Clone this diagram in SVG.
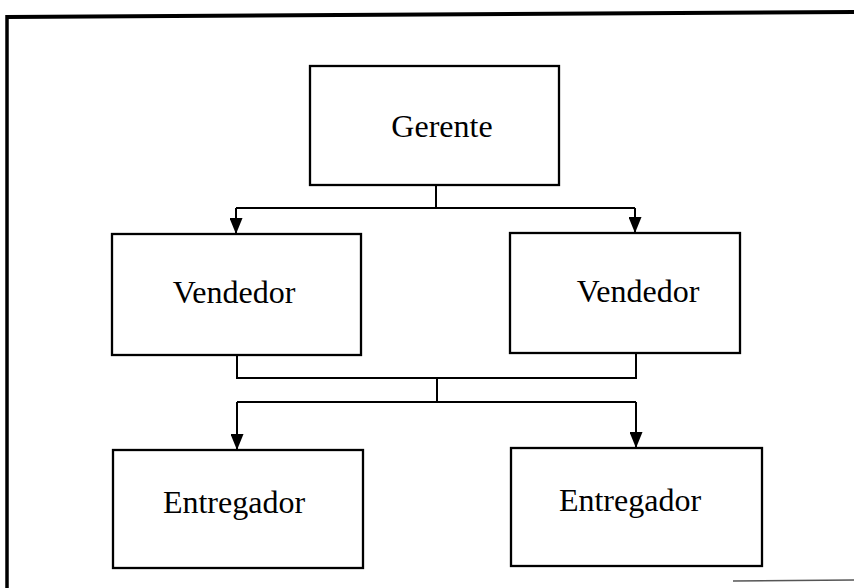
<svg xmlns="http://www.w3.org/2000/svg" width="854" height="588" viewBox="0 0 854 588">
<style>
.box{fill:#fff;stroke:#000;stroke-width:2.3}
.lbl{font-family:"Liberation Serif","Times New Roman",serif;font-size:32px;fill:#000;text-anchor:middle}
.ln{fill:none;stroke:#000;stroke-width:2}
</style>
<defs>
<marker id="ah" markerWidth="16" markerHeight="13" refX="16" refY="6.5" orient="auto" markerUnits="userSpaceOnUse" viewBox="0 0 16 13">
<path d="M0,0 L16,6.5 L0,13 Z" fill="#000"/>
</marker>
</defs>
<rect width="854" height="588" fill="#fff"/>
<g id="frame">
<path d="M7,17 L854,12" stroke="#000" stroke-width="4" fill="none"/>
<path d="M7,15 L7,588" stroke="#000" stroke-width="3.5" fill="none"/>
<path d="M733,581 L854,580" stroke="#555" stroke-width="1.5" fill="none"/>
</g>
<g id="connectors">
<path class="ln" d="M436,185 L436,208"/>
<path class="ln" d="M236,208 L635,208"/>
<path class="ln" d="M236,208 L236,234" marker-end="url(#ah)"/>
<path class="ln" d="M635,208 L635,233" marker-end="url(#ah)"/>
<path class="ln" d="M237,355 L237,378 L636,378 L636,353"/>
<path class="ln" d="M437,378 L437,402"/>
<path class="ln" d="M237,402 L636,402"/>
<path class="ln" d="M237,402 L237,450" marker-end="url(#ah)"/>
<path class="ln" d="M636,402 L636,448" marker-end="url(#ah)"/>
</g>
<g id="gerente">
<rect class="box" x="310" y="66" width="249" height="119"/>
<text class="lbl" x="442" y="137">Gerente</text>
</g>
<g id="vendedor1">
<rect class="box" x="112" y="234" width="249" height="121"/>
<text class="lbl" x="234" y="303">Vendedor</text>
</g>
<g id="vendedor2">
<rect class="box" x="510" y="233" width="230" height="120"/>
<text class="lbl" x="638" y="302">Vendedor</text>
</g>
<g id="entregador1">
<rect class="box" x="113" y="450" width="250" height="118"/>
<text class="lbl" x="234" y="513">Entregador</text>
</g>
<g id="entregador2">
<rect class="box" x="511" y="448" width="251" height="118"/>
<text class="lbl" x="630" y="511">Entregador</text>
</g>
</svg>
